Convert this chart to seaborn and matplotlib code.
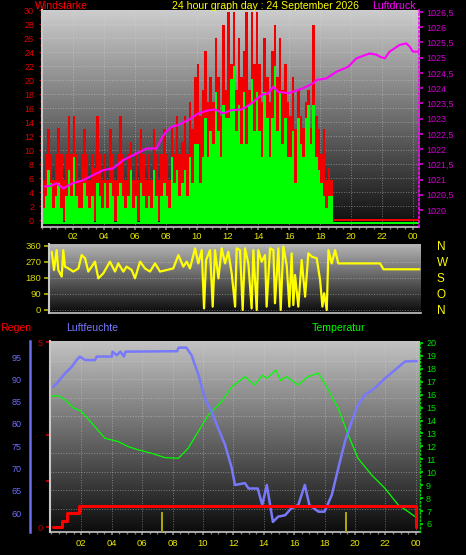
import numpy as np
import matplotlib
matplotlib.use("Agg")
import matplotlib.pyplot as plt
from matplotlib import font_manager
from matplotlib.ticker import MultipleLocator
import seaborn as sns

# ---------------- data ----------------
hour_ticks = [2, 4, 6, 8, 10, 12, 14, 16, 18, 20, 22, 24]
hour_labels = ['02', '04', '06', '08', '10', '12', '14', '16', '18', '20', '22', '00']

# wind (km/h), one value per 10 minutes starting at 00:00
wind_gust = [
    5.6, 9.3, 12.9, 9.3, 5.6, 9.3,        # 00h
    13.0, 9.3, 5.6, 9.3, 14.8, 9.3,       # 01h
    14.8, 9.3, 5.6, 9.3, 12.9, 9.3,       # 02h
    5.6, 9.3, 7.4, 14.8, 9.3, 5.6,        # 03h
    9.3, 5.6, 12.9, 9.3, 5.6, 9.3,        # 04h
    14.8, 9.3, 5.6, 9.3, 11.1, 5.6,       # 05h
    9.3, 5.6, 12.9, 9.3, 5.6, 9.3,        # 06h
    5.6, 12.9, 9.3, 5.6, 9.3, 12.9,       # 07h
    9.3, 5.6, 13.0, 9.3, 14.8, 9.3,       # 08h
    11.1, 14.8, 9.3, 16.7, 12.9, 20.4,    # 09h
    22.2, 14.8, 18.5, 24.1, 16.7, 20.4,   # 10h
    16.7, 25.9, 20.4, 14.8, 27.8, 18.5,   # 11h
    29.6, 22.2, 29.6, 18.5, 25.9, 20.4,   # 12h
    24.1, 29.6, 18.5, 29.6, 22.2, 29.6,   # 13h
    22.2, 16.7, 25.9, 20.4, 16.7, 24.1,   # 14h
    27.8, 20.4, 25.9, 18.5, 22.2, 16.7,   # 15h
    14.8, 20.4, 12.9, 18.5, 14.8, 13.0,   # 16h
    16.7, 18.5, 13.0, 27.8, 14.8, 12.9,   # 17h
    9.3, 12.9, 5.6, 7.4, 5.6, 0,          # 18h
    0, 0, 0, 0, 0, 0, 0, 0, 0, 0, 0,
    0, 0, 0, 0, 0, 0, 0, 0, 0, 0, 0,
    0, 0, 0, 0, 0, 0, 0, 0, 0, 0, 0,
]
wind_speed = [
    1.9, 3.7, 7.4, 5.6, 1.9, 3.7,
    5.6, 1.9, 0, 3.7, 7.4, 3.7,
    9.3, 3.7, 1.9, 1.9, 5.6, 3.7,
    1.9, 3.7, 0, 5.6, 3.7, 1.9,
    5.6, 1.9, 5.6, 3.7, 0, 3.7,
    5.6, 3.7, 1.9, 3.7, 7.4, 1.9,
    3.7, 0, 5.6, 3.7, 1.9, 3.7,
    1.9, 7.4, 3.7, 0, 3.7, 5.6,
    3.7, 1.9, 9.3, 5.6, 7.4, 3.7,
    5.6, 7.4, 3.7, 9.3, 5.6, 11.1,
    11.1, 5.6, 9.3, 14.8, 9.3, 13.0,
    11.1, 18.5, 13.0, 9.3, 16.7, 14.8,
    14.8, 20.4, 22.2, 13.0, 16.7, 11.1,
    18.5, 11.1, 16.7, 20.4, 13.0, 18.5,
    13.0, 9.3, 18.5, 14.8, 9.3, 14.8,
    22.2, 13.0, 18.5, 11.1, 14.8, 9.3,
    9.3, 13.0, 5.6, 14.8, 11.1, 9.3,
    14.8, 16.7, 11.1, 16.7, 9.3, 7.4,
    5.6, 3.7, 1.9, 3.7, 3.7, 0,
    0, 0, 0, 0, 0, 0, 0, 0, 0, 0, 0,
    0, 0, 0, 0, 0, 0, 0, 0, 0, 0, 0,
    0, 0, 0, 0, 0, 0, 0, 0, 0, 0, 0,
]

pressure_hour = [0.19, 0.6, 0.94, 1.37, 2.0, 2.67, 3.32, 3.97, 4.62, 5.26,
                 5.91, 6.77, 7.42, 7.63, 7.95, 8.38, 8.82, 9.46, 10.11, 10.75,
                 11.19, 11.73, 12.27, 12.92, 13.56, 14.21, 14.64, 14.97, 15.29, 15.94,
                 16.91, 17.55, 17.77, 18.41, 19.06, 19.81, 20.35, 21.2, 21.65, 21.87,
                 22.19, 22.5, 23.15, 23.58, 23.8, 24.0, 24.35]
pressure_hpa = [1020.77, 1020.80, 1020.88, 1020.71, 1020.88, 1020.98, 1021.15, 1021.31, 1021.37, 1021.64,
                1021.80, 1022.02, 1022.02, 1022.24, 1022.52, 1022.73, 1022.79, 1022.95, 1023.17, 1023.27,
                1023.30, 1023.17, 1023.28, 1023.30, 1023.50, 1023.78, 1023.83, 1024.05, 1023.88, 1023.83,
                1024.00, 1024.16, 1024.27, 1024.32, 1024.54, 1024.70, 1024.98, 1025.14, 1025.10, 1025.03,
                1024.98, 1025.20, 1025.42, 1025.47, 1025.36, 1025.20, 1025.20]

dir_hour = [0.62, 0.77, 0.94, 1.05, 1.27, 1.37, 1.48, 1.70, 2.02, 2.35,
            2.56, 2.78, 2.99, 3.21, 3.42, 3.64, 3.96, 4.39, 4.72, 4.93,
            5.26, 5.47, 5.80, 6.01, 6.34, 6.66, 6.98, 7.31, 7.63, 8.06,
            8.49, 8.82, 9.14, 9.36, 9.57, 9.90, 10.11, 10.33, 10.48, 10.61,
            10.87, 11.04, 11.19, 11.41, 11.62, 11.84, 12.05, 12.27, 12.49, 12.59,
            12.81, 12.98, 13.13, 13.35, 13.56, 13.67, 13.89, 13.99, 14.21, 14.43,
            14.53, 14.75, 14.97, 15.07, 15.29, 15.44, 15.61, 15.83, 16.00, 16.15,
            16.26, 16.37, 16.58, 16.80, 17.02, 17.23, 17.45, 17.77, 17.99, 18.14,
            18.25, 18.42, 18.53, 18.74, 18.96, 19.17, 21.87, 22.09, 24.42]
dir_deg = [328, 225, 337, 225, 188, 337, 244, 234, 216, 234,
           309, 291, 216, 244, 272, 178, 206, 272, 216, 262,
           216, 244, 225, 178, 272, 234, 216, 262, 216, 225,
           234, 309, 244, 272, 234, 347, 262, 337, 9, 281,
           337, 19, 337, 178, 347, 262, 328, 206, 19, 347,
           337, 0, 347, 262, 9, 337, 0, 337, 272, 309,
           19, 347, 337, 38, 347, 0, 356, 253, 19, 319,
           28, 197, 19, 281, 75, 319, 300, 291, 169, 19,
           94, 0, 337, 262, 337, 262, 262, 229, 229]
dir_ticks = [0, 90, 180, 270, 360]
dir_labels = ['N', 'O', 'S', 'W', 'N']

hum_hour = [0.15, 0.48, 0.92, 1.36, 1.68, 1.9, 2.24, 2.9, 3.0, 4.0,
            4.05, 4.33, 4.56, 4.8, 4.9, 8.3, 8.4, 8.9, 9.25, 9.7,
            10.13, 10.57, 11.0, 11.45, 11.9, 12.1, 12.76, 13.0, 13.6, 13.9,
            14.2, 14.6, 14.95, 15.4, 15.8, 16.27, 16.7, 17.0, 17.6, 18.0,
            18.47, 18.9, 19.34, 19.78, 20.2, 20.66, 21.3, 21.97, 22.6, 23.3, 24.06]
hum_pct = [88.3, 89.5, 91.3, 92.8, 94.3, 95.1, 94.3, 94.3, 95.1, 95.1,
           96.2, 95.4, 96.2, 95.1, 96.2, 96.3, 97.1, 97.1, 95.4, 91.0,
           85.7, 82.7, 79.0, 75.3, 70.0, 66.3, 66.7, 65.5, 65.5, 61.8,
           66.3, 58.0, 59.2, 59.5, 61.0, 61.8, 66.3, 61.8, 60.3, 60.3,
           64.0, 70.0, 76.0, 80.5, 84.2, 86.5, 88.0, 90.2, 92.0, 94.0, 94.1]

temp_hour = [0.04, 0.5, 0.92, 1.5, 1.97, 2.68, 3.55, 4.43, 5.09, 5.75,
             6.62, 7.5, 8.38, 9.03, 9.69, 10.35, 11.23, 11.9, 12.76, 13.4,
             13.9, 14.2, 14.8, 15.1, 15.5, 16.27, 16.9, 17.6, 18.25, 18.9,
             19.56, 20.2, 21.1, 21.97, 22.85, 23.5, 23.95]
temp_c = [15.9, 15.9, 15.6, 14.95, 14.74, 13.8, 12.63, 12.37, 11.98, 11.73,
          11.47, 11.13, 11.08, 11.86, 13.14, 14.43, 15.46, 16.62, 17.39, 16.75,
          17.5, 17.27, 17.9, 17.1, 17.4, 16.75, 17.39, 17.66, 16.37, 14.95,
          12.88, 11.08, 9.79, 8.76, 7.47, 6.95, 6.57]

rain_hour = [0.15, 0.70, 1.03, 1.86, 24.0]
rain_mm = [0.0, 0.16, 0.38, 0.58, 0.0]

rate_hour = [7.28, 19.4]
rate_val = [0.55, 0.55]

# ---------------- style ----------------
sns.set_theme(style='white')
plt.rcParams['font.family'] = ['Liberation Sans', 'DejaVu Sans']


def has_font(name):
    try:
        font_manager.findfont(name, fallback_to_default=False)
        return True
    except Exception:
        return False


NARROW = 'Liberation Sans Narrow' if has_font('Liberation Sans Narrow') else 'Liberation Sans'
TS = 6.5  # tick label size

W, H = 466, 555
fig = plt.figure(figsize=(W / 100, H / 100), dpi=100, facecolor='black')


def rect(l, t, r, b):
    return [l / W, 1 - b / H, (r - l) / W, (b - t) / H]


def background(r, top, bottom):
    a = fig.add_axes(r, zorder=0)
    a.imshow(np.linspace(top, bottom, 256).reshape(-1, 1), cmap='gray', vmin=0, vmax=1,
             aspect='auto', interpolation='bilinear')
    a.set_axis_off()


def spines(ax, **kw):
    for name, sp in ax.spines.items():
        if name in kw:
            sp.set_visible(True)
            sp.set_color(kw[name][0])
            sp.set_linewidth(kw[name][1])
            if len(kw[name]) > 2:
                sp.set_linestyle(kw[name][2])
        else:
            sp.set_visible(False)


GRID = dict(color='#d8d8d8', ls=':', lw=0.7, alpha=0.45)
FRAME = '#c8c8c8'

# ---------------- top: wind speed + pressure ----------------
rT = rect(42, 10, 419, 227)
background(rT, 0.80, 0.05)
axW = fig.add_axes(rT, zorder=1)
axW.patch.set_visible(False)
step = 1 / 6
t = np.arange(len(wind_gust)) * step
axW.bar(t, np.asarray(wind_gust) + 0.2, bottom=-0.1, width=step, align='edge',
        color='#f00000', linewidth=0)
axW.bar(t, np.asarray(wind_speed) + 0.25, bottom=-0.5, width=step, align='edge',
        color='#00ff00', linewidth=0)
axW.set_xticks(hour_ticks)
axW.set_xticklabels(hour_labels)
axW.xaxis.set_minor_locator(MultipleLocator(0.5))
axW.set_yticks(range(0, 31, 2))
axW.yaxis.set_minor_locator(MultipleLocator(1))
axW.tick_params(axis='y', which='both', colors='#e00000', labelsize=TS, length=2.5,
                width=0.8, pad=3.2, labelfontfamily=NARROW, left=True)
axW.tick_params(axis='y', which='minor', length=1.5)
axW.tick_params(axis='x', which='both', colors='#808080', labelcolor='#e8e800', labelsize=6.8,
                length=2.2, pad=1.5, labelfontfamily=NARROW, bottom=True)
axW.tick_params(axis='x', which='minor', length=1.4)
axW.grid(True, which='major', **GRID)
axW.set_axisbelow(True)
spines(axW, left=(FRAME, 1.5), bottom=(FRAME, 1.2))

axP = axW.twinx()
sns.lineplot(x=pressure_hour, y=pressure_hpa, ax=axP, color='#ff00ff', linewidth=1.5, legend=False)
pt = np.arange(1020, 1026.51, 0.5)
axP.set_yticks(pt)
axP.set_yticklabels([f'{v:g}'.replace('.', ',') for v in pt])
axP.tick_params(axis='y', colors='#d000d0', labelsize=TS, length=3, pad=2.3,
                labelfontfamily=NARROW, right=True)
axP.set_xlabel('')
axP.set_ylabel('')
spines(axP, right=('#ff00ff', 1.2, ':'))
axW.set_xlim(0, 24.4)
axW.set_ylim(-1, 30)
axP.set_ylim(1019.442, 1026.566)

# ---------------- middle: wind direction ----------------
rM = rect(49, 244, 421, 312.5)
background(rM, 0.72, 0.05)
axD = fig.add_axes(rM, zorder=1)
axD.patch.set_visible(False)
sns.lineplot(x=dir_hour, y=dir_deg, ax=axD, color='#ffff00', linewidth=1.6, legend=False)
axD.set_yticks(dir_ticks)
axD.set_xticks([])
axD.tick_params(axis='y', colors='#b0b000', labelcolor='#d8d800', labelsize=6.8, length=3.5,
                pad=2, labelfontfamily=NARROW, left=True)
axD.grid(True, axis='y', **GRID)
axD.set_axisbelow(True)
axD.set_xlabel('')
axD.set_ylabel('')
spines(axD, left=(FRAME, 1.5), bottom=(FRAME, 1.2))
axD2 = axD.twinx()
axD2.set_yticks(dir_ticks)
axD2.set_yticklabels(dir_labels)
axD2.tick_params(axis='y', length=0, pad=11.3, labelsize=8.5, labelcolor='#ffff00')
spines(axD2)
axD.set_xlim(0.447, 24.52)
axD.set_ylim(-14.1, 371.25)
axD2.set_ylim(-14.1, 371.25)

# ---------------- bottom: rain, humidity, temperature ----------------
rB = rect(50, 341, 420, 532)
background(rB, 0.76, 0.05)
ax0 = fig.add_axes(rB, zorder=1)
ax0.patch.set_visible(False)
ax0.set_xticks(hour_ticks)
ax0.set_xticklabels(hour_labels)
ax0.xaxis.set_minor_locator(MultipleLocator(0.5))
ax0.set_yticks([0, 1.25, 2.5, 5])
ax0.set_yticklabels(['0', '', '', '5'])
ax0.yaxis.set_minor_locator(MultipleLocator(0.5))
ax0.tick_params(axis='y', which='major', colors='#d00000', labelsize=TS, length=3.2, pad=2.4,
                labelfontfamily=NARROW, left=True)
ax0.tick_params(axis='y', which='minor', length=0)
ax0.tick_params(axis='x', which='both', colors='#808080', labelcolor='#e8e800', labelsize=6.8,
                length=2.2, pad=2.5, labelfontfamily=NARROW, bottom=True)
ax0.tick_params(axis='x', which='minor', length=1.4)
ax0.grid(True, which='major', axis='x', **GRID)
ax0.grid(True, which='minor', axis='y', **GRID)
ax0.set_axisbelow(True)
spines(ax0, left=(FRAME, 1.5), bottom=(FRAME, 1.2))

axT = ax0.twinx()
sns.lineplot(x=temp_hour, y=temp_c, ax=axT, color='#00ff00', linewidth=0.9, legend=False)
axT.set_yticks(range(6, 21))
axT.tick_params(axis='y', colors='#00e000', labelsize=TS, length=2.2, pad=2.2,
                labelfontfamily=NARROW, right=True)
axT.set_xlabel('')
axT.set_ylabel('')
spines(axT, right=('#00d000', 1.0, ':'))

axH = ax0.twinx()
sns.lineplot(x=hum_hour, y=hum_pct, ax=axH, color='#7878fa', linewidth=1.8, legend=False)
axH.yaxis.set_ticks_position('left')
axH.yaxis.set_label_position('left')
axH.set_yticks(range(60, 96, 5))
axH.tick_params(axis='y', colors='#6c6cff', labelsize=TS, length=0, pad=5.8,
                labelfontfamily=NARROW, left=True, right=False)
axH.set_xlabel('')
axH.set_ylabel('')
spines(axH, left=('#6c6cf0', 1.8))
axH.spines['left'].set_position(('outward', 14.4))

axR = ax0.twinx()
axR.bar(rate_hour, rate_val, bottom=-0.135, width=0.13, color='#b0a400', linewidth=0)
sns.lineplot(x=rain_hour, y=rain_mm, ax=axR, color='#ff0000', linewidth=2.2,
             drawstyle='steps-post', legend=False)
axR.set_yticks([])
axR.set_xlabel('')
axR.set_ylabel('')
spines(axR)

ax0.set_xlim(-0.066, 24.28)
ax0.set_ylim(-0.135, 5.03)
axR.set_ylim(-0.135, 5.03)
axT.set_ylim(5.38, 20.15)
axH.set_ylim(55.74, 98.59)


# ---------------- headings ----------------
def heading(x, y, s, c):
    fig.text(x / W, 1 - y / H, s, color=c, fontsize=7.6, va='baseline', ha='left',
             family=['Liberation Sans', 'DejaVu Sans'])


heading(35, 9, 'Windstärke', '#ff0000')
heading(172, 9, '24 hour graph day : 24 September 2026', '#ffff00')
heading(372, 9, 'Luftdruck', '#ff00ff')
heading(0, 331, 'Regen', '#ff0000')
heading(66, 331, 'Luftfeuchte', '#7878ff')
heading(312, 331, 'Temperatur', '#00ff00')

fig.savefig('out.png', dpi=100, facecolor='black')
